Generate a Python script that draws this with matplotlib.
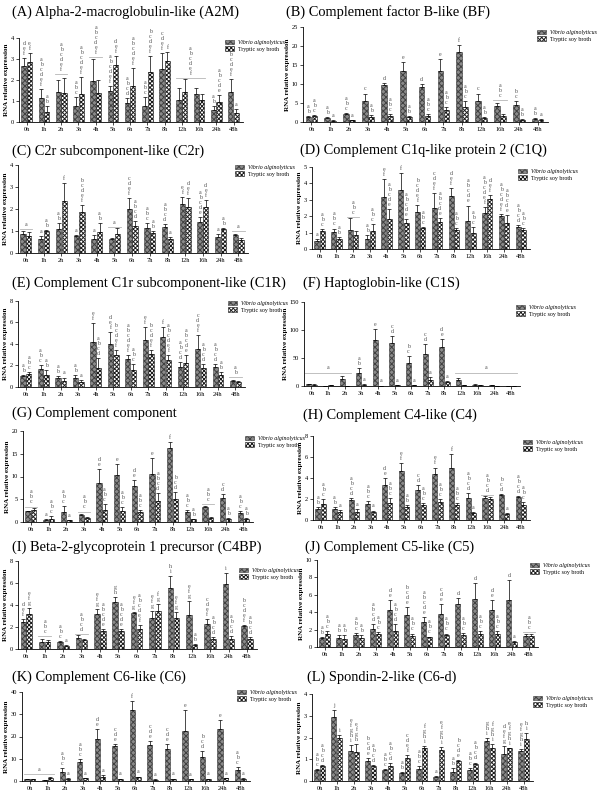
import matplotlib
matplotlib.use('Agg')
import matplotlib.pyplot as plt
import numpy as np
from matplotlib.patches import Patch

plt.rcParams['font.family'] = ['Liberation Serif', 'DejaVu Serif']
plt.rcParams['hatch.linewidth'] = 0.7

time_labels = ['0h', '1h', '2h', '3h', '4h', '5h', '6h', '7h', '8h', '12h', '16h', '24h', '48h']
series_names = ['Vibrio alginolyticus', 'Tryptic soy broth']

# ---------------- (A) ----------------
A_title = '(A) Alpha-2-macroglobulin-like (A2M)'
A_vib = [2.68, 1.15, 1.43, 0.75, 1.93, 1.47, 0.92, 0.75, 2.53, 1.05, 1.33, 0.57, 1.45]
A_vib_sd = [0.37, 0.43, 0.57, 0.45, 1.07, 0.23, 0.23, 0.45, 0.77, 0.55, 0.29, 0.18, 0.60]
A_tsb = [2.87, 0.48, 1.37, 1.33, 1.38, 2.72, 1.70, 2.38, 2.90, 1.42, 1.03, 0.95, 0.43]
A_tsb_sd = [0.43, 0.27, 0.73, 0.82, 0.62, 0.43, 0.85, 0.77, 0.45, 0.63, 0.32, 0.33, 0.17]
A_vib_let = ['def', 'abcdef', '', 'abc', '', 'abcdef', 'abcd', 'abc', 'cdef', '', '', 'ab', 'abcdef']
A_tsb_let = ['ef', 'ab', '', 'abcdef', '', 'def', 'abcdef', 'bcdef', 'f', '', '', 'abcde', 'a']
A_groups = [(2, 2, 2.3, 'abcdef'), (4, 4, 3.1, 'abcdef'), (9, 10, 2.1, 'abcdef')]
A_ymax, A_ystep = 4, 1

# ---------------- (B) ----------------
B_title = '(B) Complement factor B-like (BF)'
B_vib = [1.3, 1.0, 2.0, 5.5, 9.7, 13.4, 9.3, 13.3, 18.5, 5.5, 4.1, 4.5, 0.8]
B_vib_sd = [0.2, 0.2, 0.4, 2.0, 0.6, 2.4, 0.7, 3.2, 1.7, 2.0, 0.9, 1.0, 0.2]
B_tsb = [1.6, 0.3, 0.4, 1.2, 1.6, 1.2, 1.6, 3.1, 4.0, 1.1, 1.7, 0.5, 0.5]
B_tsb_sd = [0.3, 0.2, 0.2, 0.6, 0.6, 0.4, 0.6, 0.8, 1.6, 0.3, 0.5, 0.2, 0.2]
B_vib_let = ['ab', 'ab', 'abc', 'c', 'd', 'e', 'd', 'e', 'f', 'c', '', 'bc', 'ab']
B_tsb_let = ['abc', 'a', 'a', 'ab', 'abc', 'ab', 'abc', 'abc', 'abc', 'ab', '', 'ab', 'a']
B_groups = [(10, 10, 5.8, 'abc')]
B_ymax, B_ystep = 25, 5

# ---------------- (C) ----------------
C_title = '(C) C2r subcomponent-like (C2r)'
C_vib = [0.85, 0.62, 1.07, 0.75, 0.65, 0.63, 2.0, 1.12, 1.2, 2.22, 1.43, 0.72, 0.8]
C_vib_sd = [0.15, 0.13, 0.28, 0.05, 0.15, 0.07, 0.5, 0.23, 0.1, 0.33, 0.22, 0.13, 0.07]
C_tsb = [0.75, 1.0, 2.38, 1.85, 0.95, 0.88, 1.22, 0.9, 0.62, 2.08, 2.1, 1.07, 0.57]
C_tsb_sd = [0.2, 0.05, 0.79, 0.35, 0.4, 0.24, 0.23, 0.1, 0.1, 0.42, 0.32, 0.05, 0.13]
C_vib_let = ['', 'a', 'ab', 'a', 'a', '', 'cdef', 'abc', 'abcd', 'ef', 'abcde', 'a', '']
C_tsb_let = ['', 'ab', 'f', 'bcdef', 'ab', '', 'abcd', 'ab', 'a', 'def', 'def', 'ab', '']
C_groups = [(0, 0, 1.1, 'a'), (5, 5, 1.2, 'a'), (12, 12, 1.0, 'a')]
C_ymax, C_ystep = 4, 1

# ---------------- (D) ----------------
D_title = '(D) Complement C1q-like protein 2 (C1Q)'
D_vib = [0.5, 1.05, 1.18, 0.62, 3.2, 3.57, 2.28, 2.52, 3.22, 1.72, 2.2, 2.0, 1.35]
D_vib_sd = [0.1, 0.2, 0.72, 0.21, 1.05, 1.08, 0.42, 0.88, 0.48, 0.93, 0.35, 0.15, 0.1]
D_tsb = [1.1, 0.63, 0.85, 1.1, 1.82, 1.6, 1.28, 1.65, 1.17, 0.95, 3.02, 1.6, 1.15]
D_tsb_sd = [0.1, 0.12, 0.25, 0.4, 0.63, 0.25, 0.07, 0.25, 0.13, 0.4, 0.28, 0.45, 0.15]
D_vib_let = ['a', 'abc', '', 'ab', 'ef', 'f', 'bcdef', 'cdef', 'def', 'abcde', 'abcdef', 'abcdef', 'abcd']
D_tsb_let = ['abc', 'ab', '', 'abc', 'abcde', 'abcde', 'abc', 'abcde', 'abc', 'abc', 'def', 'abcde', 'abc']
D_groups = [(2, 2, 1.95, 'abc')]
D_ymax, D_ystep = 5, 1

# ---------------- (E) ----------------
E_title = '(E) Complement C1r subcomponent-like (C1R)'
E_vib = [1.0, 1.65, 0.88, 0.8, 4.2, 4.0, 2.57, 4.4, 4.65, 1.9, 3.55, 1.85, 0.55]
E_vib_sd = [0.1, 0.35, 0.12, 0.3, 1.75, 1.15, 0.38, 1.15, 0.9, 0.45, 1.3, 0.25, 0.07]
E_tsb = [1.25, 1.15, 0.6, 0.5, 1.75, 3.0, 1.6, 3.05, 2.55, 2.2, 1.8, 1.1, 0.5]
E_tsb_sd = [0.15, 0.45, 0.28, 0.18, 0.93, 0.4, 0.5, 0.4, 0.4, 0.75, 0.35, 0.25, 0.1]
E_vib_let = ['ab', 'abc', 'ab', 'ab', 'ef', 'def', 'abcdef', 'ef', 'f', 'abcd', 'cdef', 'abcd', '']
E_tsb_let = ['abc', 'ab', 'a', 'a', 'abcd', 'bcdef', 'abc', 'bcdef', 'abcdef', 'abcde', 'abcd', 'ab', '']
E_groups = [(12, 12, 0.9, 'ab')]
E_ymax, E_ystep = 8, 2

# ---------------- (F) ----------------
F_title = '(F) Haptoglobin-like (C1S)'
F_vib = [3, 0.5, 13, 23, 82, 77, 41, 57, 70, 11, 2.5, 1.5, 0.3]
F_vib_sd = [1, 0.3, 4, 9, 19, 13, 12, 18, 14, 3, 0.5, 0.5, 0.2]
F_tsb = [2.5, 1.5, 0.3, 2, 0.5, 1.5, 2, 11, 7, 1, 2, 0.5, 0.2]
F_tsb_sd = [0.5, 0.3, 0.2, 1, 0.3, 0.5, 0.5, 5, 2, 0.3, 0.5, 0.2, 0.1]
F_vib_let = ['', '', '', 'ab', 'e', 'cd', 'bc', 'cd', 'de', '', '', '', '']
F_tsb_let = ['', '', '', 'a', 'a', 'a', 'a', 'a', 'a', '', '', '', '']
F_groups = [(0, 2, 24, 'a'), (9, 12, 24, 'a')]
F_ymax, F_ystep = 150, 50

# ---------------- (G) ----------------
G_title = '(G) Complement component'
G_vib = [2.4, 0.5, 2.1, 1.5, 8.5, 10.4, 7.9, 10.5, 16.2, 2.1, 3.2, 5.2, 1.9]
G_vib_sd = [0.1, 0.2, 1.5, 0.2, 3.1, 2.3, 1.3, 3.5, 1.3, 0.6, 0.4, 1.0, 0.5]
G_tsb = [2.65, 0.75, 0.4, 0.9, 2.6, 2.4, 2.1, 4.7, 5.0, 0.6, 0.9, 0.7, 0.6]
G_tsb_sd = [0.35, 0.55, 0.1, 0.2, 1.3, 0.8, 0.6, 1.6, 1.5, 0.1, 0.1, 0.1, 0.2]
G_vib_let = ['', 'a', 'abc', '', 'de', 'e', 'de', 'e', 'f', 'abc', '', 'cd', 'abc']
G_tsb_let = ['', 'abc', 'a', '', 'abc', 'abc', 'abc', 'abcd', 'bcd', 'ab', '', 'ab', 'ab']
G_groups = [(0, 0, 3.4, 'abc'), (3, 3, 2.3, 'abc'), (10, 10, 4.0, 'abc')]
G_ymax, G_ystep = 20, 5

# ---------------- (H) ----------------
H_title = '(H) Complement C4-like (C4)'
H_vib = [1.05, 1.05, 1.9, 1.5, 3.35, 4.7, 2.87, 4.35, 5.0, 2.05, 2.1, 2.4, 2.2]
H_vib_sd = [0.15, 0.2, 0.15, 0.3, 0.65, 0.75, 0.48, 0.65, 1.3, 0.55, 0.2, 0.1, 0.1]
H_tsb = [1.55, 0.8, 0.8, 0.75, 1.6, 1.2, 1.4, 1.75, 1.4, 0.7, 1.97, 0.6, 1.45]
H_tsb_sd = [0.45, 0.15, 0.25, 0.15, 0.5, 0.25, 0.2, 0.25, 0.25, 0.1, 0.18, 0.1, 0.3]
H_vib_let = ['ab', 'ab', 'abcd', 'abc', 'de', 'ef', 'cd', 'ef', 'f', 'abcd', '', 'bcd', 'abcd']
H_tsb_let = ['abc', 'a', 'a', 'a', 'abc', 'ab', 'abc', 'abc', 'abc', 'a', '', 'a', 'abc']
H_groups = [(10, 10, 2.4, 'abcd')]
H_ymax, H_ystep = 8, 2

# ---------------- (I) ----------------
I_title = '(I) Beta-2-glycoprotein 1 precursor (C4BP)'
I_vib = [2.45, 0.68, 0.62, 1.0, 3.15, 4.3, 3.25, 2.85, 5.55, 3.05, 2.3, 5.9, 2.1]
I_vib_sd = [0.3, 0.22, 0.1, 0.3, 0.45, 0.4, 0.1, 0.6, 1.1, 1.3, 0.4, 1.0, 0.1]
I_tsb = [3.2, 0.62, 0.3, 0.8, 1.6, 1.6, 1.8, 3.5, 2.85, 0.4, 0.9, 0.9, 0.95]
I_tsb_sd = [0.5, 0.23, 0.05, 0.15, 0.2, 0.2, 0.4, 0.6, 0.5, 0.05, 0.15, 0.25, 0.15]
I_vib_let = ['def', '', 'abc', '', 'efg', 'gh', 'efg', 'efg', 'hi', 'efg', 'cdef', 'i', 'bcdef']
I_tsb_let = ['efg', '', 'a', '', 'abcde', 'abcde', 'abcdef', 'fg', 'efg', 'ab', 'abcd', 'abcd', 'abcd']
I_groups = [(1, 1, 1.15, 'abc'), (3, 3, 1.4, 'abcd')]
I_ymax, I_ystep = 8, 2

# ---------------- (J) ----------------
J_title = '(J) Complement C5-like (C5)'
J_vib = [1.0, 1.0, 1.4, 2.05, 4.2, 3.65, 2.85, 3.85, 4.9, 5.5, 4.2, 5.35, 1.3]
J_vib_sd = [0.1, 0.4, 0.2, 0.55, 1.15, 0.95, 0.55, 1.1, 0.75, 1.85, 1.15, 2.3, 0.2]
J_tsb = [1.55, 0.95, 1.0, 1.5, 1.8, 1.3, 1.1, 1.35, 1.35, 1.45, 1.45, 0.6, 1.25]
J_tsb_sd = [0.3, 0.45, 0.4, 0.25, 0.8, 0.25, 0.1, 0.2, 0.25, 0.4, 0.35, 0.1, 0.3]
J_vib_let = ['ab', 'ab', 'abc', 'abcd', 'de', 'bcde', 'abcde', 'cde', 'd', 'd', 'de', 'd', '']
J_tsb_let = ['abc', 'ab', 'ab', 'abc', 'abcd', 'abc', 'abc', 'abc', 'abc', 'abc', 'abc', 'a', '']
J_groups = [(12, 12, 1.75, 'abc')]
J_ymax, J_ystep = 10, 2

# ---------------- (K) ----------------
K_title = '(K) Complement C6-like (C6)'
K_vib = [0.7, 0.4, 3.9, 8.7, 18.8, 15.7, 32.1, 16.1, 14.2, 22.5, 11.0, 23.5, 5.1]
K_vib_sd = [0.2, 0.1, 1.8, 1.0, 4.5, 1.0, 3.9, 1.8, 2.6, 9.5, 2.3, 4.0, 1.3]
K_tsb = [0.9, 1.5, 1.1, 1.2, 1.7, 1.0, 1.6, 0.6, 1.0, 0.9, 1.0, 1.4, 1.0]
K_tsb_sd = [0.1, 0.5, 0.2, 0.2, 0.8, 0.1, 0.4, 0.1, 0.1, 0.1, 0.1, 0.1, 0.3]
K_vib_let = ['', '', 'abc', 'abc', 'de', 'cde', 'f', 'cde', 'cde', 'e', 'bcd', 'e', 'abc']
K_tsb_let = ['', '', 'a', 'a', 'a', 'a', 'a', 'a', 'a', 'a', 'a', 'a', 'a']
K_groups = [(0, 1, 3.2, 'a')]
K_ymax, K_ystep = 40, 10

# ---------------- (L) ----------------
L_title = '(L) Spondin-2-like (C6-d)'
L_vib = [0.52, 2.95, 1.4, 0.92, 0.5, 0.37, 0.57, 0.2, 0.43, 0.5, 1.82, 1.25, 1.4]
L_vib_sd = [0.05, 0.33, 0.27, 0.13, 0.03, 0.05, 0.13, 0.02, 0.17, 0.1, 0.15, 0.35, 0.08]
L_tsb = [0.67, 1.98, 1.35, 0.68, 0.7, 1.07, 1.53, 1.42, 0.9, 0.77, 1.53, 1.5, 1.93]
L_tsb_sd = [0.05, 0.14, 0.37, 0.07, 0.12, 0.13, 0.07, 0.13, 0.05, 0.08, 0.19, 0.03, 0.27]
L_vib_let = ['abc', 'j', 'efghi', 'bcde', 'abc', 'ab', 'abc', 'a', 'ab', 'abc', 'ghi', 'defg', 'efghi']
L_tsb_let = ['abcd', 'i', 'efgh', 'abcd', 'abcd', 'cdef', 'fghi', 'efghi', 'bcde', 'abcd', 'fghi', 'efghi', 'hi']
L_groups = []
L_ymax, L_ystep = 4, 1

# ---------------- styling / layout ----------------
W, H = 600, 790
VIB_FC, VIB_EC, VIB_HATCH = '#8a8a8a', '#404040', 'xxxxxx'
TSB_FC, TSB_EC, TSB_HATCH = 'white', '#1a1a1a', 'xxxxxxxx'
LET_COLOR = '#505050'

panels = [
    (A_title, A_vib, A_vib_sd, A_tsb, A_tsb_sd, A_vib_let, A_tsb_let, A_groups, A_ymax, A_ystep,
     (19, 243, 38, 122), (12, 12), (225, 40)),
    (B_title, B_vib, B_vib_sd, B_tsb, B_tsb_sd, B_vib_let, B_tsb_let, B_groups, B_ymax, B_ystep,
     (303, 548, 27, 122), (286, 12), (537, 30)),
    (C_title, C_vib, C_vib_sd, C_tsb, C_tsb_sd, C_vib_let, C_tsb_let, C_groups, C_ymax, C_ystep,
     (18, 248, 165, 253), (12, 151), (235, 165)),
    (D_title, D_vib, D_vib_sd, D_tsb, D_tsb_sd, D_vib_let, D_tsb_let, D_groups, D_ymax, D_ystep,
     (312, 530, 167, 249), (300, 150), (518, 169)),
    (E_title, E_vib, E_vib_sd, E_tsb, E_tsb_sd, E_vib_let, E_tsb_let, E_groups, E_ymax, E_ystep,
     (18, 245, 301, 387), (12, 283), (228, 301)),
    (F_title, F_vib, F_vib_sd, F_tsb, F_tsb_sd, F_vib_let, F_tsb_let, F_groups, F_ymax, F_ystep,
     (304, 520, 302, 386), (303, 283), (516, 305)),
    (G_title, G_vib, G_vib_sd, G_tsb, G_tsb_sd, G_vib_let, G_tsb_let, G_groups, G_ymax, G_ystep,
     (23, 253, 431, 522), (12, 413), (245, 436)),
    (H_title, H_vib, H_vib_sd, H_tsb, H_tsb_sd, H_vib_let, H_tsb_let, H_groups, H_ymax, H_ystep,
     (313, 530, 436, 520), (303, 415), (523, 440)),
    (I_title, I_vib, I_vib_sd, I_tsb, I_tsb_sd, I_vib_let, I_tsb_let, I_groups, I_ymax, I_ystep,
     (18, 257, 561, 649), (12, 547), (239, 568)),
    (J_title, J_vib, J_vib_sd, J_tsb, J_tsb_sd, J_vib_let, J_tsb_let, J_groups, J_ymax, J_ystep,
     (317, 538, 560, 647), (305, 547), (530, 563)),
    (K_title, K_vib, K_vib_sd, K_tsb, K_tsb_sd, K_vib_let, K_tsb_let, K_groups, K_ymax, K_ystep,
     (22, 250, 692, 781), (12, 677), (237, 690)),
    (L_title, L_vib, L_vib_sd, L_tsb, L_tsb_sd, L_vib_let, L_tsb_let, L_groups, L_ymax, L_ystep,
     (312, 533, 694, 781), (307, 677), (533, 696)),
]

fig = plt.figure(figsize=(W / 100, H / 100), dpi=100)
fig.patch.set_facecolor('white')

n = len(time_labels)
x = np.arange(n)
w, off = 0.3, 0.16


def stack(s):
    return '\n'.join(list(s))


for (title, vib, vib_sd, tsb, tsb_sd, vlet, tlet, groups, ymax, ystep,
     box, tpos, lpos) in panels:
    xl, xr, yt, yb = box
    ax = fig.add_axes([xl / W, 1 - yb / H, (xr - xl) / W, (yb - yt) / H])
    ax.bar(x - off, vib, w, color=VIB_FC, edgecolor=VIB_EC, hatch=VIB_HATCH, linewidth=0.4, zorder=2)
    ax.bar(x + off, tsb, w, color=TSB_FC, edgecolor=TSB_EC, hatch=TSB_HATCH, linewidth=0.4, zorder=2)
    zeros = np.zeros(n)
    ax.errorbar(x - off, vib, yerr=[zeros, vib_sd], fmt='none', ecolor='black',
                elinewidth=0.5, capsize=1.3, capthick=0.5, zorder=3)
    ax.errorbar(x + off, tsb, yerr=[zeros, tsb_sd], fmt='none', ecolor='black',
                elinewidth=0.5, capsize=1.3, capthick=0.5, zorder=3)
    for i in range(n):
        if vlet[i]:
            ax.annotate(stack(vlet[i]), (x[i] - off, vib[i] + vib_sd[i]), xytext=(0, 1.5),
                        textcoords='offset points', ha='center', va='bottom', fontsize=4.2,
                        linespacing=1.0, color=LET_COLOR, annotation_clip=False)
        if tlet[i]:
            ax.annotate(stack(tlet[i]), (x[i] + off, tsb[i] + tsb_sd[i]), xytext=(0, 1.5),
                        textcoords='offset points', ha='center', va='bottom', fontsize=4.2,
                        linespacing=1.0, color=LET_COLOR, annotation_clip=False)
    for (s, e, yv, let) in groups:
        ax.plot([s - off - w / 2 - 0.05, e + off + w / 2 + 0.05], [yv, yv], color='#b5b5b5', lw=0.6, zorder=1)
        ax.annotate(stack(let), ((s + e) / 2, yv), xytext=(0, 1.5), textcoords='offset points',
                    ha='center', va='bottom', fontsize=4.2, linespacing=1.0, color=LET_COLOR,
                    annotation_clip=False)
    ax.set_xlim(-0.45, n - 0.45)
    ax.set_ylim(0, ymax)
    ax.set_yticks(np.arange(0, ymax + ystep / 2, ystep))
    ax.set_xticks(x)
    ax.set_xticklabels(time_labels)
    ax.tick_params(axis='both', labelsize=4.6, length=2, width=0.5, pad=1.5)
    for sp in ['top', 'right']:
        ax.spines[sp].set_visible(False)
    for sp in ['left', 'bottom']:
        ax.spines[sp].set_linewidth(0.6)
    ax.set_ylabel('RNA relative expression', fontsize=5, fontweight='bold', labelpad=1.5)
    fig.text(tpos[0] / W, 1 - tpos[1] / H, title, fontsize=10.4, ha='left', va='center')
    handles = [Patch(facecolor=VIB_FC, edgecolor=VIB_EC, hatch=VIB_HATCH, linewidth=0.4),
               Patch(facecolor=TSB_FC, edgecolor=TSB_EC, hatch=TSB_HATCH, linewidth=0.4)]
    leg = fig.legend(handles, series_names, loc='upper left',
                     bbox_to_anchor=(lpos[0] / W, 1 - lpos[1] / H), frameon=False,
                     fontsize=4.2, handlelength=1.6, handleheight=0.8, labelspacing=0.2,
                     handletextpad=0.6, borderpad=0, borderaxespad=0)
    leg.get_texts()[0].set_style('italic')

fig.savefig('out.png', dpi=100, facecolor='white')
